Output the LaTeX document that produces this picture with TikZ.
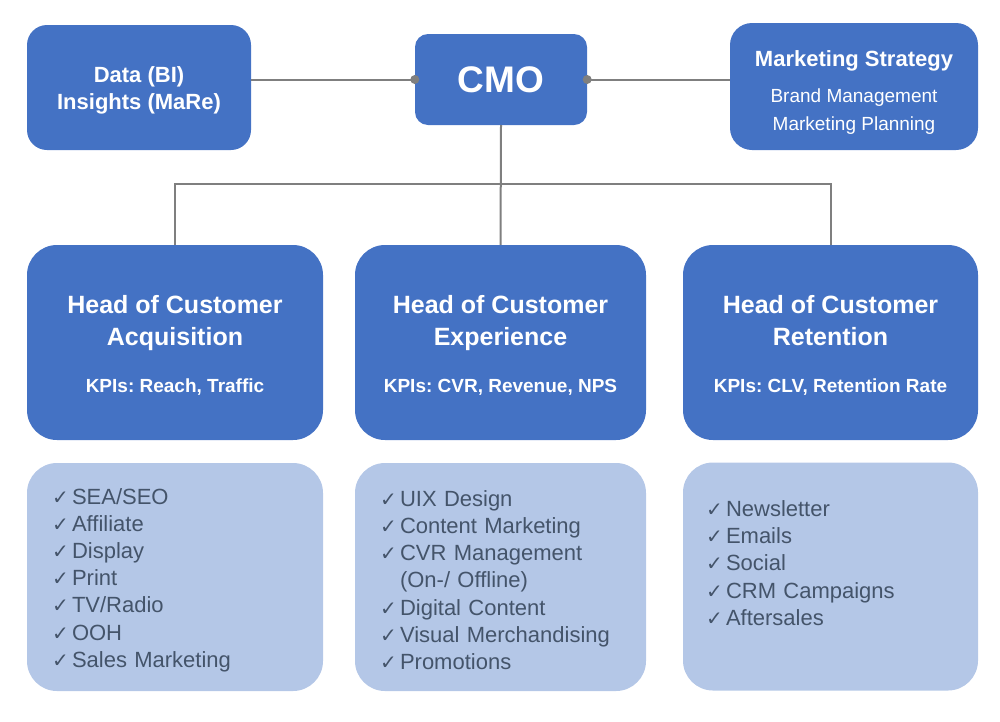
\documentclass[tikz,border=0pt]{standalone}
\usepackage{fontspec}
\setmainfont{Liberation Sans}
\newfontfamily\checkfont{DejaVu Sans}
\frenchspacing

\definecolor{boxblue}{HTML}{4472C4}
\definecolor{listblue}{HTML}{B4C7E7}
\definecolor{listtext}{HTML}{44546A}
\definecolor{linegray}{HTML}{7F7F7F}

\newcommand{\tick}{\makebox[20pt][l]{\checkfont\fontsize{20}{20}\selectfont ✓}}
\newcommand{\fsize}[2]{\fontsize{#1}{#2}\selectfont}
% taller first line pushes a centred text block down
\newcommand{\lift}[1]{\rule{0pt}{#1}}

\tikzset{
  topbox/.style={fill=boxblue, text=white, align=center, inner sep=0pt},
  headbox/.style={fill=boxblue, text=white, align=center, inner sep=0pt,
    rounded corners=30pt, minimum height=195pt, font=\bfseries\fsize{25}{32}},
  listbox/.style={fill=listblue, text=listtext, align=left, inner xsep=25pt,
    rounded corners=30pt, minimum height=228pt, text width=246pt,
    font=\fsize{22}{27.2}},
  link/.style={draw=linegray, line width=2pt},
  joint/.style={fill=linegray, radius=4.5pt}
}

\begin{document}
\begin{tikzpicture}[x=1pt, y=-1pt]
   \useasboundingbox (0,0) rectangle (1000,721);
   % top row
   \node[topbox, rounded corners=20pt, minimum width=224pt, minimum height=125pt,
         font=\bfseries\fsize{22}{27}] (data) at (139,87.5)
         {\lift{22pt}Data (BI)\\Insights (MaRe)};
   \node[topbox, rounded corners=13pt, minimum width=172pt, minimum height=91pt,
         font=\bfseries\fsize{37}{40}] (cmo) at (501,79.5) {CMO};
   \node[topbox, rounded corners=22pt, minimum width=248pt, minimum height=127pt,
         font=\fsize{19}{28}] (strategy) at (854,86.5)
         {\lift{27pt}{\bfseries\fsize{22}{28}Marketing Strategy}\\[8pt]
          Brand Management\\Marketing Planning};
   % heads
   \node[headbox, minimum width=296pt] (acq) at (175,342.5)
         {\lift{23pt}Head of Customer\\Acquisition\\[15pt]\fsize{19}{23}KPIs: Reach, Traffic};
   \node[headbox, minimum width=291pt] (exp) at (500.5,342.5)
         {\lift{23pt}Head of Customer\\Experience\\[15pt]\fsize{19}{23}KPIs: CVR, Revenue, NPS};
   \node[headbox, minimum width=295pt] (ret) at (830.5,342.5)
         {\lift{23pt}Head of Customer\\Retention\\[15pt]\fsize{19}{23}KPIs: CLV, Retention Rate};
   % task lists
   \node[listbox] (acqlist) at (175,577)
         {\lift{22pt}\tick SEA/SEO\\\tick Affiliate\\\tick Display\\\tick Print\\
          \tick TV/Radio\\\tick OOH\\\tick Sales Marketing};
   \node[listbox, text width=241pt] (explist) at (500.5,577)
         {\lift{22pt}\tick UIX Design\\\tick Content Marketing\\\tick CVR Management\\
          \hspace*{20pt}(On-/ Offline)\\\tick Digital Content\\
          \tick Visual Merchandising\\\tick Promotions};
   \node[listbox, inner xsep=23pt, text width=249pt] (retlist) at (830.5,576.5)
         {\tick Newsletter\\\tick Emails\\\tick Social\\\tick CRM Campaigns\\
          \tick Aftersales\\~};
   % connectors
   \draw[link] (data.east |- cmo.west) -- (cmo.west);
   \draw[link] (cmo.east) -- (strategy.west |- cmo.east);
   \fill[joint] (cmo.west) circle;
   \fill[joint] (cmo.east) circle;
   \coordinate (bus) at (cmo.south |- 0,184);
   \draw[link] (cmo.south) -- (exp.north);
   \draw[link] (acq.north) |- (bus) -| (ret.north);
\end{tikzpicture}
\end{document}
